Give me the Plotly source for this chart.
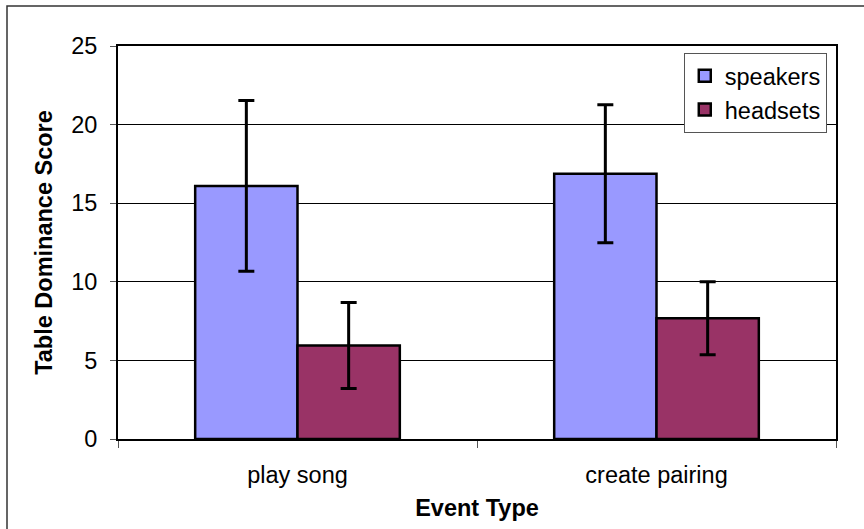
import plotly.graph_objects as go

categories = ["play song", "create pairing"]
speakers = [16.1, 16.88]
speakers_err = [5.43, 4.39]
headsets = [5.95, 7.68]
headsets_err = [2.74, 2.32]
y_ticks = [0, 5, 10, 15, 20, 25]

FONT = "Liberation Sans, Arial, sans-serif"
FS = 23.5

fig = go.Figure()
fig.add_trace(go.Bar(
    name="speakers", x=categories, y=speakers,
    marker=dict(color="#9999FF", line=dict(color="black", width=2.5)),
    error_y=dict(type="data", array=speakers_err, color="black", thickness=3, width=8),
))
fig.add_trace(go.Bar(
    name="headsets", x=categories, y=headsets,
    marker=dict(color="#993366", line=dict(color="black", width=2.5)),
    error_y=dict(type="data", array=headsets_err, color="black", thickness=3, width=8),
))

fig.update_layout(
    width=864, height=529,
    margin=dict(l=118, r=28, t=46, b=90),
    paper_bgcolor="white", plot_bgcolor="white",
    barmode="group", bargap=0.43, bargroupgap=0,
    font=dict(family=FONT, size=FS, color="black"),
    showlegend=True,
    legend=dict(
        x=0.788, y=0.982, xanchor="left", yanchor="top",
        bgcolor="white", bordercolor="#555555", borderwidth=1,
        font=dict(family=FONT, size=FS, color="black"),
        tracegroupgap=0, itemwidth=30,
    ),
)
fig.update_xaxes(
    type="category", showline=True, linecolor="black", linewidth=2, mirror=True,
    ticks="outside", tickson="boundaries", ticklen=7, tickcolor="#555555", tickwidth=1,
    showgrid=False, ticklabelstandoff=14,
    title=dict(text="<b>Event Type</b>", font=dict(family=FONT, size=FS), standoff=12),
    tickfont=dict(family=FONT, size=FS),
)
fig.update_yaxes(
    range=[0, 25], tickvals=y_ticks, showline=True, linecolor="black", linewidth=2, mirror=True,
    ticks="outside", ticklen=6, tickcolor="#555555", tickwidth=1,
    showgrid=True, gridcolor="black", gridwidth=1, zeroline=False,
    ticklabelstandoff=8,
    title=dict(text="<b>Table Dominance Score</b>", font=dict(family=FONT, size=FS), standoff=12),
    tickfont=dict(family=FONT, size=FS),
)

# outer chart border (top and left visible)
fig.add_shape(type="rect", xref="paper", yref="paper",
              x0=(7 - 118) / 718, x1=1.2, y0=-0.4, y1=(439 - 6) / 393,
              line=dict(color="#333333", width=1.5), layer="above")

fig.write_html("out.html", post_script="document.body.style.margin='0';",
               config={"displayModeBar": False})
